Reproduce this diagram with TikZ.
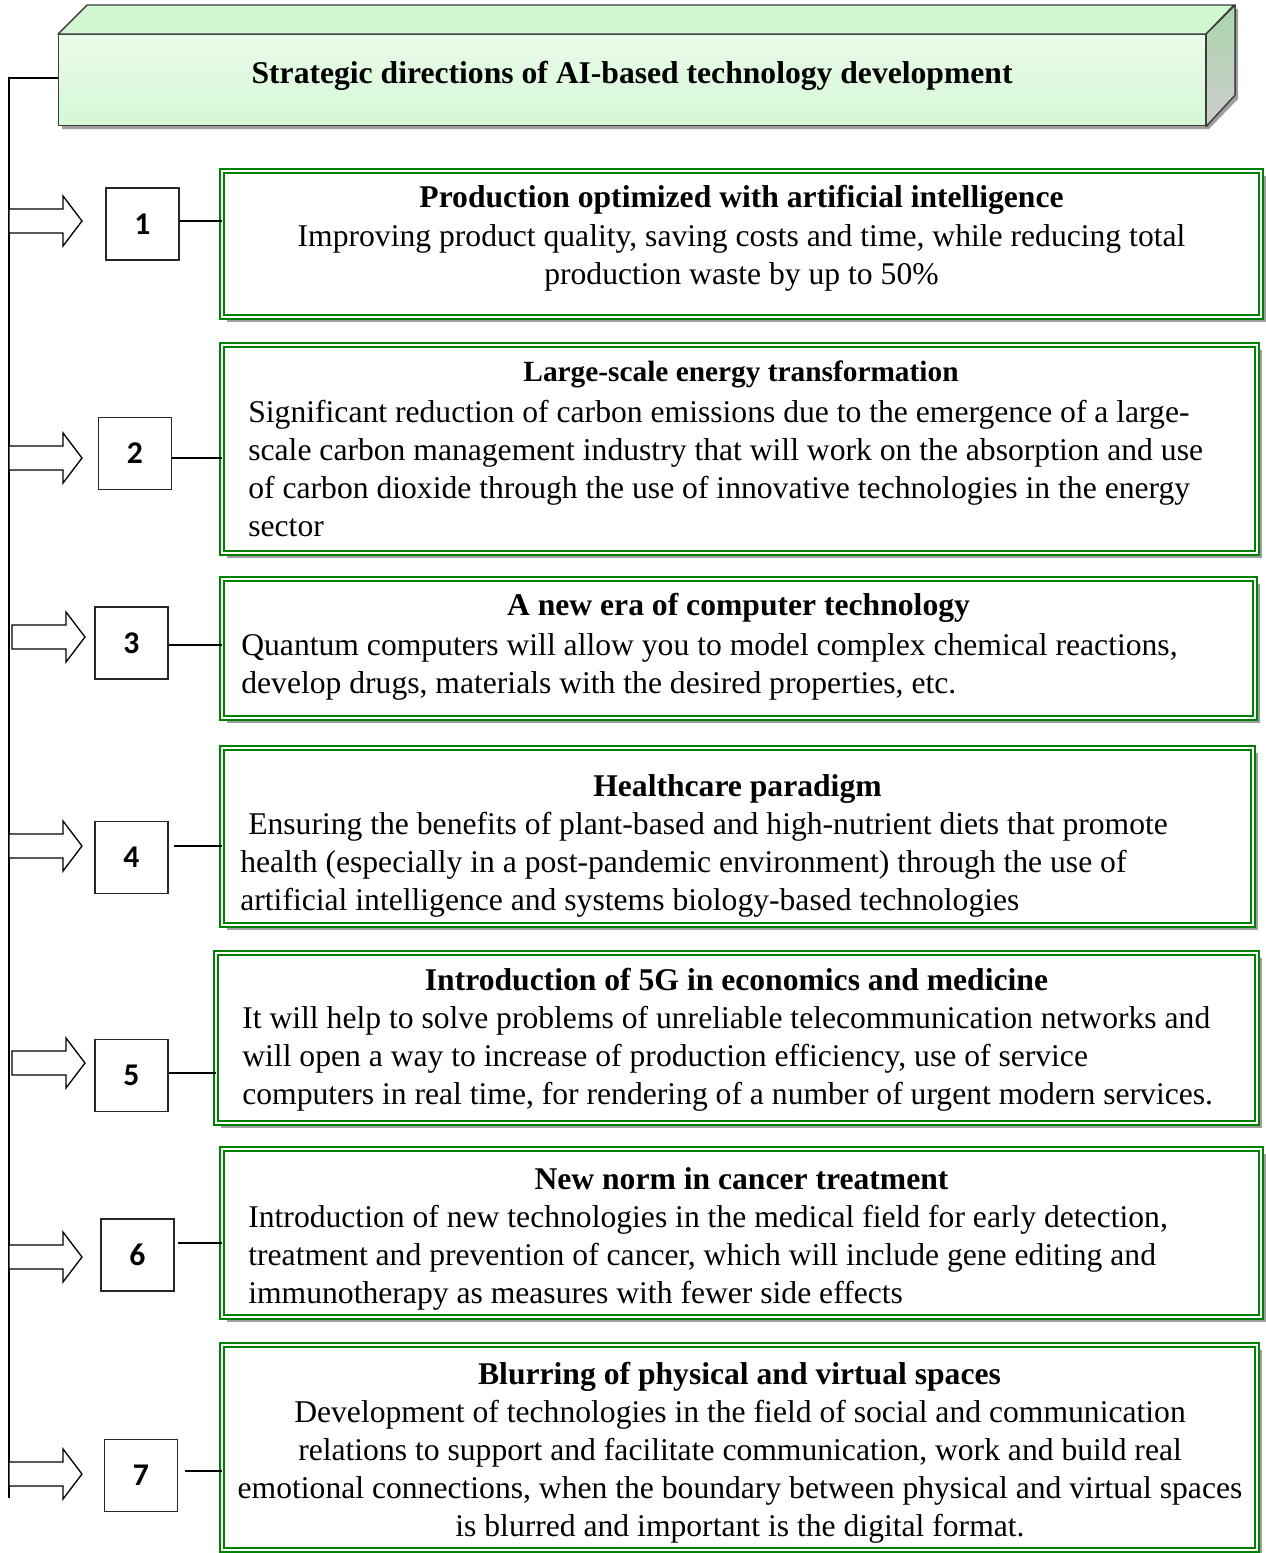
\documentclass[tikz,border=0pt]{standalone}
\usepackage{fontspec}
\setmainfont{Liberation Serif}
\newfontfamily\numfont{Carlito}
\usetikzlibrary{positioning,calc,shadows}

\definecolor{hdrgreen}{RGB}{208,247,208}
\definecolor{hdrside}{RGB}{172,214,172}
\definecolor{hdredge}{RGB}{60,60,60}
\definecolor{boxgreen}{RGB}{0,128,0}
\definecolor{shadowgray}{RGB}{158,158,158}

\begin{document}
\begin{tikzpicture}[
    x=0.02cm, y=-0.02cm,
    font=\fontsize{18}{21.6}\selectfont,
    hdr/.style={
        draw=hdredge,
        line width=0.8pt,
        top color=hdrgreen!45,
        middle color=white,
        bottom color=hdrgreen!90,
        inner sep=0pt,
        text height=12.6pt,
        text depth=8.6pt,
        font=\fontsize{18}{21.6}\selectfont\bfseries
    },
    face/.style={draw=hdredge, line width=0.8pt, line join=round},
    gbox/.style={
        draw=boxgreen,
        line width=1pt,
        double=white,
        double distance=1.3pt,
        fill=white,
        inner sep=0pt,
        outer sep=0pt,
        anchor=north west,
        general shadow={fill=shadowgray, shadow xshift=3pt, shadow yshift=-3pt}
    },
    numbox/.style={
        draw=black!85,
        line width=0.75pt,
        fill=white,
        minimum width=1.46cm,
        minimum height=1.44cm,
        inner sep=0pt,
        font=\numfont\bfseries\fontsize{18}{21.6}\selectfont
    },
    ttl/.style={inner sep=0pt, text height=0.7em, text depth=0.22em, font=\fontsize{18}{21.6}\selectfont\bfseries},
    ttlsmall/.style={ttl, font=\fontsize{16.7}{20}\selectfont\bfseries},
    body/.style={inner sep=0pt, align=left, anchor=north west},
    bodyc/.style={inner sep=0pt, align=center, anchor=north},
    link/.style={line width=0.75pt},
    bus/.style={line width=1.1pt},
    hollow/.style={draw=black, line width=0.75pt, fill=white, line join=miter}
]
\useasboundingbox (0,0) rectangle (1266,1553);

% header block
\fill[shadowgray] (62,38) -- (91,9) -- (1238,9) -- (1238,99) -- (1209,129) -- (62,129) -- cycle;
\node[hdr, anchor=north west, minimum width=22.94cm, minimum height=1.82cm] (hdr) at (58,34)
    {Strategic directions of AI-based technology development};
\draw[face, fill=hdrgreen] (hdr.north west) -- ++(29,-29) -- ++(1147,0) -- (hdr.north east) -- cycle;
\draw[face, top color=hdrside, bottom color=gray!40] (hdr.north east) -- ++(29,-29) -- ++(0,90) -- (hdr.south east) -- cycle;

% bus line
\coordinate (busend) at (9,1498);
\draw[bus] ([yshift=1.4pt]hdr.west) -| (busend);

% hollow arrows
\foreach \y/\xs/\xt in {221/9/82, 458/9/82, 637/12/85, 846/9/82, 1063/12/85, 1257/9/82, 1474/9/82}
    \draw[hollow] (\xs,\y-12) -- (\xt-19,\y-12) -- (\xt-19,\y-25) -- (\xt,\y)
        -- (\xt-19,\y+25) -- (\xt-19,\y+12) -- (\xs,\y+12) -- cycle;

% green frames
\node[gbox, minimum width=20.78cm, minimum height=2.92cm] (g1) at (222,171) {};
\node[gbox, minimum width=20.70cm, minimum height=4.16cm] (g2) at (222,345) {};
\node[gbox, minimum width=20.66cm, minimum height=2.78cm] (g3) at (222,579) {};
\node[gbox, minimum width=20.62cm, minimum height=3.54cm] (g4) at (222,748) {};
\node[gbox, minimum width=20.82cm, minimum height=3.40cm] (g5) at (216,953) {};
\node[gbox, minimum width=20.78cm, minimum height=3.36cm] (g6) at (222,1149) {};
\node[gbox, minimum width=20.70cm, minimum height=4.10cm] (g7) at (222,1345) {};

% numbered boxes
\node[numbox] (n1) at (142.5,224) {1};
\node[numbox] (n2) at (135,453.5) {2};
\node[numbox] (n3) at (131.5,643) {3};
\node[numbox] (n4) at (131.5,857.5) {4};
\node[numbox] (n5) at (131.5,1075.5) {5};
\node[numbox] (n6) at (137.5,1255) {6};
\node[numbox] (n7) at (141,1475.5) {7};

\draw[link] ([yshift=1.7pt]n1.east) -- ([yshift=1.7pt]n1.east -| g1.west);
\draw[link] ([yshift=-2.6pt]n2.east) -- ([yshift=-2.6pt]n2.east -| g2.west);
\draw[link] ([yshift=-1.1pt]n3.east) -- ([yshift=-1.1pt]n3.east -| g3.west);
\draw[link] ([yshift=6.5pt,xshift=3pt]n4.east) -- ([yshift=6.5pt]n4.east -| g4.west);
\draw[link] ([yshift=1.4pt]n5.east) -- ([yshift=1.4pt]n5.east -| g5.west);
\draw[link] ([yshift=6.8pt,xshift=2pt]n6.east) -- ([yshift=6.8pt]n6.east -| g6.west);
\draw[link] ([yshift=2.6pt,xshift=4pt]n7.east) -- ([yshift=2.6pt]n7.east -| g7.west);

% texts
\node[ttl] (t1) at (741.5,203) {Production optimized with artificial intelligence};
\node[bodyc] (b1) at (741.5,224) {Improving product quality, saving costs and time, while reducing total\\
    production waste by up to 50\%};

\node[ttlsmall] (t2) at (741,377) {Large-scale energy transformation};
\node[body] (b2) at (248,400) {Significant reduction of carbon emissions due to the emergence of a large-\\
    scale carbon management industry that will work on the absorption and use\\
    of carbon dioxide through the use of innovative technologies in the energy\\
    sector};

\node[ttl] (t3) at (738.5,611) {A new era of computer technology};
\node[body] (b3) at (241,633) {Quantum computers will allow you to model complex chemical reactions,\\
    develop drugs, materials with the desired properties, etc.};

\node[ttl] (t4) at (737.5,792) {Healthcare paradigm};
\node[body] (b4) at (240,812) {\hspace*{0.25em}Ensuring the benefits of plant-based and high-nutrient diets that promote\\
    health (especially in a post-pandemic environment) through the use of\\
    artificial intelligence and systems biology-based technologies};

\node[ttl] (t5) at (736.5,986) {Introduction of 5G in economics and medicine};
\node[body] (b5) at (242,1006) {It will help to solve problems of unreliable telecommunication networks and\\
    will open a way to increase of production efficiency, use of service\\
    computers in real time, for rendering of a number of urgent modern services.};

\node[ttl] (t6) at (741.5,1185) {New norm in cancer treatment};
\node[body] (b6) at (248,1205) {Introduction of new technologies in the medical field for early detection,\\
    treatment and prevention of cancer, which will include gene editing and\\
    immunotherapy as measures with fewer side effects};

\node[ttl] (t7) at (739.5,1380) {Blurring of physical and virtual spaces};
\node[bodyc] (b7) at (740,1400) {Development of technologies in the field of social and communication\\
    relations to support and facilitate communication, work and build real\\
    emotional connections, when the boundary between physical and virtual spaces\\
    is blurred and important is the digital format.};

\end{tikzpicture}
\end{document}
